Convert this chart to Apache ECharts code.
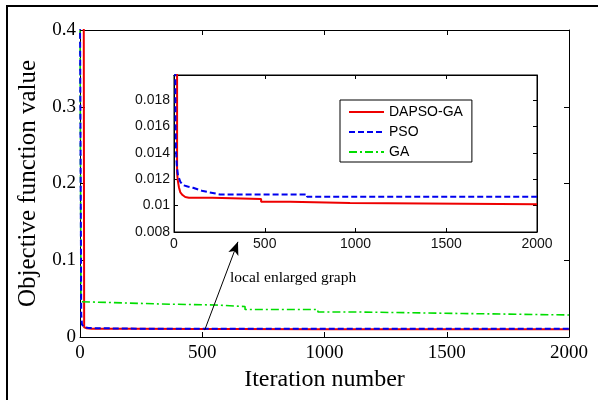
<!DOCTYPE html>
<html>
<head>
<meta charset="utf-8">
<script src="https://cdn.jsdelivr.net/npm/echarts@6/dist/echarts.min.js"></script>
<style>html,body{margin:0;padding:0;background:#fff;}#c{width:598px;height:400px;}</style>
</head>
<body>
<div id="c"></div>
<script>
// ---- data ----
const seriesNames = ['DAPSO-GA', 'PSO', 'GA'];
const xTicks = [0, 500, 1000, 1500, 2000];
const mainYTicks = [0, 0.1, 0.2, 0.3, 0.4];
const insetYTicks = [0.008, 0.01, 0.012, 0.014, 0.016, 0.018];

const redIter = [0, 15, 17, 21, 27, 35, 47, 62, 82, 210, 210, 480, 480, 640, 640, 970, 970, 2000];
const redVal  = [0.5, 0.5, 0.0125, 0.0119, 0.0114, 0.0110, 0.0108, 0.01065, 0.0106, 0.0106, 0.0105, 0.0105, 0.0103, 0.0103, 0.0102, 0.0102, 0.0101, 0.0101];

const psoIter = [0, 3, 5, 8, 11, 15, 22, 35, 50, 75, 105, 160, 253, 733, 733, 2000];
const psoVal  = [0.42, 0.42, 0.03, 0.0165, 0.0142, 0.0131, 0.0123, 0.0118, 0.01155, 0.01145, 0.01135, 0.0111, 0.01085, 0.01085, 0.01067, 0.01067];

const gaIter = [0, 2, 4, 8, 192, 192, 327, 327, 552, 552, 675, 675, 973, 973, 1133, 1133, 1566, 1566, 2000];
const gaVal  = [0.42, 0.42, 0.046, 0.0443, 0.0443, 0.0430, 0.0430, 0.0417, 0.0417, 0.0397, 0.0397, 0.0358, 0.0358, 0.0326, 0.0326, 0.0306, 0.0306, 0.0287, 0.0287];

const arrowTail = [510, 0.009];
const arrowHead = [646, 0.124];
const annotation = 'local enlarged graph';

// ---- build ----
const zip = (a, b) => a.map((v, i) => [v, b[i]]);
const red = '#ee0000', blue = '#0000ee', green = '#00dd00';
const serif = '"Liberation Serif", "Times New Roman", serif';
const sans = '"Liberation Sans", Arial, sans-serif';

function boxAxis(base, extra) { return Object.assign({}, base, extra); }

const mainX = {type: 'value', gridIndex: 0, min: 0, max: 2000, interval: 500,
  axisLine: {show: true, onZero: false, lineStyle: {color: '#000', width: 1}},
  axisTick: {show: true, inside: true, length: 5, lineStyle: {color: '#000'}},
  splitLine: {show: false}};
const mainY = {type: 'value', gridIndex: 0, min: 0, max: 0.4, interval: 0.1,
  axisLine: {show: true, onZero: false, lineStyle: {color: '#000', width: 1}},
  axisTick: {show: true, inside: true, length: 5, lineStyle: {color: '#000'}},
  splitLine: {show: false}};
const insX = {type: 'value', gridIndex: 1, min: 0, max: 2000, interval: 500,
  axisLine: {show: true, onZero: false, lineStyle: {color: '#000', width: 1}},
  axisTick: {show: true, inside: true, length: 4, lineStyle: {color: '#000'}},
  splitLine: {show: false}};
const insY = {type: 'value', gridIndex: 1, min: 0.008, max: 0.0199, interval: 0.002,
  axisLine: {show: true, onZero: false, lineStyle: {color: '#000', width: 1}},
  axisTick: {show: true, inside: true, length: 4, lineStyle: {color: '#000'}},
  splitLine: {show: false}};

const xFmt = v => (xTicks.indexOf(v) >= 0 ? String(v) : '');

const option = {
  animation: false,
  backgroundColor: '#fff',
  grid: [
    {left: 80, top: 30, width: 489, height: 307, show: false},
    {left: 174, top: 75, width: 363, height: 157, show: true, backgroundColor: '#fff', borderColor: '#000', borderWidth: 1, z: 3}
  ],
  xAxis: [
    boxAxis(mainX, {position: 'bottom',
      axisLabel: {show: true, margin: 7, color: '#000', fontFamily: serif, fontSize: 19, formatter: xFmt},
      name: 'Iteration number', nameLocation: 'middle', nameGap: 25,
      nameTextStyle: {fontFamily: serif, fontSize: 24, color: '#000'}}),
    boxAxis(mainX, {position: 'top', axisLabel: {show: false}}),
    boxAxis(insX, {position: 'bottom', z: 4,
      axisLabel: {show: true, margin: 5, color: '#111', fontFamily: sans, fontSize: 14, formatter: xFmt}}),
    boxAxis(insX, {position: 'top', z: 4, axisLabel: {show: false}})
  ],
  yAxis: [
    boxAxis(mainY, {position: 'left',
      axisLabel: {show: true, margin: 4, color: '#000', fontFamily: serif, fontSize: 19,
        formatter: v => (mainYTicks.some(t => Math.abs(t - v) < 1e-9) ? String(+v.toFixed(1)) : '')},
      name: 'Objective function value', nameLocation: 'middle', nameGap: 37,
      nameTextStyle: {fontFamily: serif, fontSize: 25, color: '#000'}}),
    boxAxis(mainY, {position: 'right', axisLabel: {show: false}}),
    boxAxis(insY, {position: 'left', z: 4,
      axisLabel: {show: true, margin: 4, color: '#111', fontFamily: sans, fontSize: 14,
        showMaxLabel: false,
        formatter: v => (insetYTicks.some(t => Math.abs(t - v) < 1e-9) ? String(+v.toFixed(3)) : '')}}),
    boxAxis(insY, {position: 'right', z: 4, axisLabel: {show: false}})
  ],
  legend: {
    data: seriesNames,
    orient: 'vertical', left: 340, top: 100,
    padding: [5, 9, 3, 8], itemGap: 6, itemWidth: 35, itemHeight: 14,
    backgroundColor: '#fff', borderColor: '#000', borderWidth: 1, borderRadius: 0,
    itemStyle: {opacity: 0},
    textStyle: {fontFamily: sans, fontSize: 14, color: '#000'},
    z: 10
  },
  series: [
    {name: seriesNames[0], type: 'line', xAxisIndex: 0, yAxisIndex: 0, data: zip(redIter, redVal),
      symbol: 'none', lineStyle: {color: red, width: 2}, itemStyle: {color: red}, z: 2},
    {name: seriesNames[1], type: 'line', xAxisIndex: 0, yAxisIndex: 0, data: zip(psoIter, psoVal),
      symbol: 'none', lineStyle: {color: blue, width: 2, type: [6, 3]}, itemStyle: {color: blue}, z: 3},
    {name: seriesNames[2], type: 'line', xAxisIndex: 0, yAxisIndex: 0, data: zip(gaIter, gaVal),
      symbol: 'none', lineStyle: {color: green, width: 1.6, type: [8, 3, 2, 3]}, itemStyle: {color: green}, z: 2,
      markLine: {silent: true, symbol: ['none', 'arrow'], symbolSize: [8, 13],
        lineStyle: {color: '#000', width: 1, type: 'solid'}, label: {show: false},
        data: [[{coord: arrowTail}, {coord: arrowHead}]]}},
    {name: seriesNames[0], type: 'line', xAxisIndex: 2, yAxisIndex: 2, data: zip(redIter, redVal),
      symbol: 'none', lineStyle: {color: red, width: 2}, itemStyle: {color: red}, z: 5},
    {name: seriesNames[1], type: 'line', xAxisIndex: 2, yAxisIndex: 2, data: zip(psoIter, psoVal),
      symbol: 'none', lineStyle: {color: blue, width: 2, type: [6, 3]}, itemStyle: {color: blue}, z: 6}
  ],
  graphic: [
    {type: 'rect', shape: {x: 7, y: 6, width: 700, height: 500}, style: {fill: 'none', stroke: '#000', lineWidth: 2}, silent: true},
    {type: 'text', x: 230, y: 278, style: {text: annotation, font: '15.5px ' + serif, fill: '#000', verticalAlign: 'middle', align: 'left'}, silent: true}
  ]
};

const chart = echarts.init(document.getElementById('c'), null, {renderer: 'canvas'});
chart.setOption(option);
</script>
</body>
</html>
